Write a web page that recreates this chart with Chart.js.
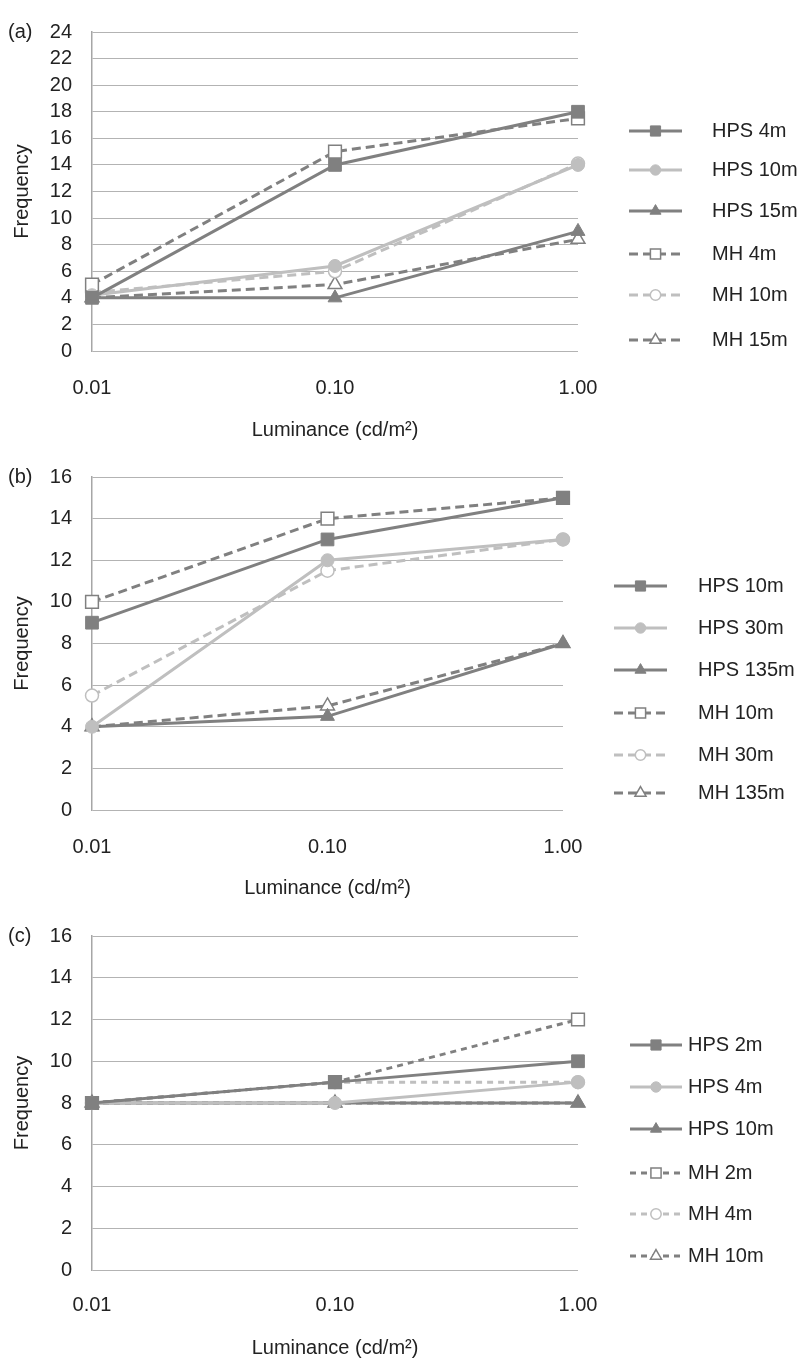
<!DOCTYPE html>
<html>
<head>
<meta charset="utf-8">
<script src="https://cdn.jsdelivr.net/npm/chart.js@4.4.0/dist/chart.umd.min.js"></script>
<style>
html,body{margin:0;padding:0;background:#fff;}
.panel{position:absolute;left:0;width:805px;}
</style>
</head>
<body>

<div class="panel" style="top:0px"><canvas id="chartA" width="805" height="445"></canvas></div>
<div class="panel" style="top:445px"><canvas id="chartB" width="805" height="458"></canvas></div>
<div class="panel" style="top:903px"><canvas id="chartC" width="805" height="457"></canvas></div>

<script>

const luminance = ["0.01","0.10","1.00"];

/* (a) */
const namesA = ["HPS 4m","HPS 10m","HPS 15m","MH 4m","MH 10m","MH 15m"];
const hps4A  = [4, 14, 18];
const hps10A = [4.2, 6.4, 14];
const hps15A = [4, 4, 9];
const mh4A   = [5, 15, 17.5];
const mh10A  = [4.4, 6, 14.1];
const mh15A  = [4, 5, 8.4];
const ticksA = [0,2,4,6,8,10,12,14,16,18,20,22,24];

/* (b) */
const namesB = ["HPS 10m","HPS 30m","HPS 135m","MH 10m","MH 30m","MH 135m"];
const hps10B  = [9, 13, 15];
const hps30B  = [4, 12, 13];
const hps135B = [4, 4.5, 8];
const mh10B   = [10, 14, 15];
const mh30B   = [5.5, 11.5, 13];
const mh135B  = [4, 5, 8];
const ticksB = [0,2,4,6,8,10,12,14,16];

/* (c) */
const namesC = ["HPS 2m","HPS 4m","HPS 10m","MH 2m","MH 4m","MH 10m"];
const hps2C  = [8, 9, 10];
const hps4C  = [8, 8, 9];
const hps10C = [8, 8, 8];
const mh2C   = [8, 9, 12];
const mh4C   = [8, 9, 9];
const mh10C  = [8, 8, 8];
const ticksC = [0,2,4,6,8,10,12,14,16];


const FONT = '"Liberation Sans", Arial, sans-serif';
const dark = "#808080";
const light = "#bfbfbf";
const textColor = "#222";

const styles = [
{color:dark,  dashed:false, shape:"rect",     r:9,   open:false},
{color:light, dashed:false, shape:"circle",   r:6.5, open:false},
{color:dark,  dashed:false, shape:"triangle", r:8,   open:false},
{color:dark,  dashed:true,  shape:"rect",     r:9,   open:true},
{color:light, dashed:true,  shape:"circle",   r:6.5, open:true},
{color:dark,  dashed:true,  shape:"triangle", r:8,   open:true}
];

function makeDatasets(names, series, dash){

return series.map((vals,i)=>{

const s = styles[i];

return {
label:names[i],
data:vals,
borderColor:s.color,
borderWidth:3,
borderDash:s.dashed ? dash : [],
pointStyle:s.shape,
pointRadius:s.r,
pointHoverRadius:s.r,
pointBackgroundColor:s.open ? "#fff" : s.color,
pointBorderColor:s.color,
pointBorderWidth:s.open ? 1.5 : 1,
tension:0,
fill:false
};

});

}


/* legend at the right side + panel tag */

const sideLegend = {
id:"sideLegend",
afterDraw(chart, args, opts){

const ctx = chart.ctx;
ctx.save();
ctx.font = "20px " + FONT;
ctx.textBaseline = "middle";
ctx.fillStyle = textColor;
ctx.fillText(opts.tag, 8, chart.chartArea.top);

chart.data.datasets.forEach((ds,i)=>{

const y = opts.rows[i];

ctx.strokeStyle = ds.borderColor;
ctx.lineWidth = ds.borderWidth;
ctx.setLineDash(ds.borderDash);
ctx.beginPath();
ctx.moveTo(opts.x0, y);
ctx.lineTo(opts.x1, y);
ctx.stroke();
ctx.setLineDash([]);

ctx.fillStyle = ds.pointBackgroundColor;
ctx.strokeStyle = ds.pointBorderColor;
ctx.lineWidth = ds.pointBorderWidth;
Chart.helpers.drawPoint(ctx,{
pointStyle:ds.pointStyle,
radius:ds.pointRadius*0.8,
rotation:0,
borderWidth:ds.pointBorderWidth
},(opts.x0+opts.x1)/2, y);

ctx.fillStyle = textColor;
ctx.fillText(ds.label, opts.textX, y);

});

ctx.restore();

}
};


function makePanel(id, p, names, series, ticks){

const canvas = document.getElementById(id);

return new Chart(canvas,{
type:"line",
data:{
labels:luminance,
datasets:makeDatasets(names, series, p.dash)
},
options:{
responsive:false,
animation:false,
layout:{padding:{top:p.top, right:805 - p.right, left:0, bottom:0}},
plugins:{
legend:{display:false},
tooltip:{enabled:false},
sideLegend:{tag:p.tag, rows:p.rows, x0:p.lx0, x1:p.lx1, textX:p.tx}
},
scales:{
x:{
offset:false,
grid:{display:false},
border:{display:false},
ticks:{color:textColor, font:{family:FONT, size:20}, padding:p.tickPad, maxRotation:0},
title:{display:true, text:"Luminance (cd/m²)", color:textColor, font:{family:FONT, size:20}, padding:{top:0, bottom:p.titlePad}},
afterFit(scale){ scale.height = canvas.height - p.bottom; }
},
y:{
min:0,
max:ticks[ticks.length-1],
afterBuildTicks(scale){ scale.ticks = ticks.map(v=>({value:v})); },
grid:{color:"#b3b3b3", lineWidth:1, drawTicks:false},
border:{display:true, color:"#a6a6a6", width:1.5},
ticks:{color:textColor, font:{family:FONT, size:20}, padding:20, autoSkip:false},
title:{display:true, text:"Frequency", color:textColor, font:{family:FONT, size:20}, padding:{top:10, bottom:0}},
afterFit(scale){ scale.width = p.left; }
}
}
},
plugins:[sideLegend]
});

}


makePanel("chartA",{
tag:"(a)", top:18, bottom:351, left:92, right:578,
tickPad:17, titlePad:3, dash:[9,5],
rows:[131,170,211,254,295,340], lx0:629, lx1:682, tx:712
}, namesA, [hps4A,hps10A,hps15A,mh4A,mh10A,mh15A], ticksA);

makePanel("chartB",{
tag:"(b)", top:32, bottom:365, left:92, right:563,
tickPad:17, titlePad:3, dash:[9,5],
rows:[141,183,225,268,310,348], lx0:614, lx1:667, tx:698
}, namesB, [hps10B,hps30B,hps135B,mh10B,mh30B,mh135B], ticksB);

makePanel("chartC",{
tag:"(c)", top:33, bottom:367, left:92, right:578,
tickPad:15, titlePad:0, dash:[6,5],
rows:[142,184,226,270,311,353], lx0:630, lx1:682, tx:688
}, namesC, [hps2C,hps4C,hps10C,mh2C,mh4C,mh10C], ticksC);

</script>
</body>
</html>
